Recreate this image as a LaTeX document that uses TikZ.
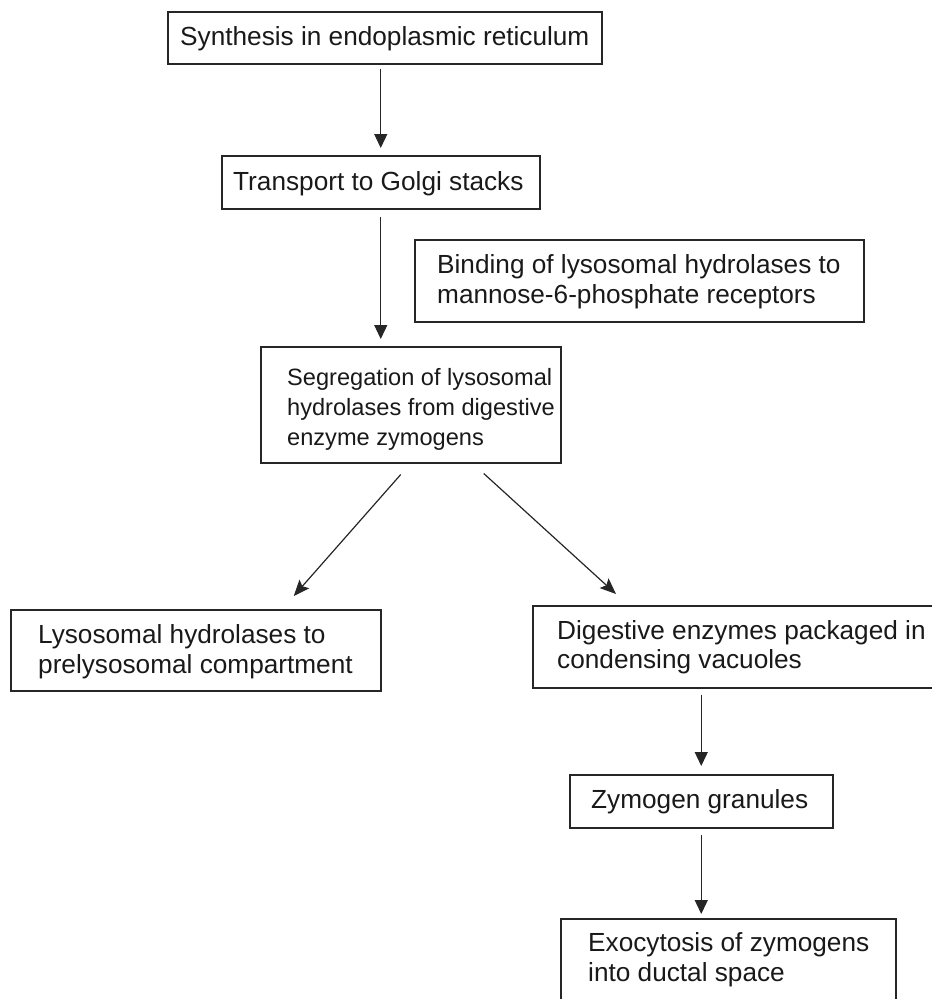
\documentclass[tikz,border=0pt]{standalone}
\usepackage{fontspec}
\setmainfont{Liberation Sans}
\usetikzlibrary{arrows.meta}
\begin{document}
\begin{tikzpicture}[x=1pt,y=-1pt,
  boxstyle/.style={draw=black!85, line width=1.5pt, inner sep=0pt, anchor=north west},
  txt/.style={anchor=base west, inner sep=0pt, text=black!90, font=\fontsize{26.2}{30.5}\selectfont},
  smalltxt/.style={txt, font=\fontsize{23.6}{29}\selectfont},
  arr/.style={draw=black!85, line width=1.3pt, -{Triangle[length=14pt,width=13pt]}},
  darr/.style={draw=black!85, line width=1.2pt, -{Stealth[length=16pt,width=13pt,inset=3pt]}}]
\useasboundingbox (0,0) rectangle (932,999);
\clip (0,0) rectangle (932,999);
% boxes
\node[boxstyle, minimum width=434pt, minimum height=52pt] (b1) at (167,11) {};
\node[boxstyle, minimum width=318pt, minimum height=53pt] (b2) at (221,155) {};
\node[boxstyle, minimum width=449pt, minimum height=82pt] (b3) at (414,239) {};
\node[boxstyle, minimum width=300pt, minimum height=116pt] (b4) at (260,346) {};
\node[boxstyle, minimum width=370pt, minimum height=81pt] (b5) at (10,609) {};
\node[boxstyle, minimum width=413pt, minimum height=82pt] (b6) at (532,605) {};
\node[boxstyle, minimum width=263pt, minimum height=53pt] (b7) at (569,774) {};
\node[boxstyle, minimum width=335pt, minimum height=95pt] (b8) at (560,918) {};
% texts
\node[txt] (t1) at (180,45.5) {Synthesis in endoplasmic reticulum};
\node[txt] (t2) at (233,190) {Transport to Golgi stacks};
\node[txt] (t3a) at (437,273) {Binding of lysosomal hydrolases to};
\node[txt] (t3b) at (437,303) {mannose-6-phosphate receptors};
\node[smalltxt] (t4a) at (287,385) {Segregation of lysosomal};
\node[smalltxt] (t4b) at (287,415) {hydrolases from digestive};
\node[smalltxt] (t4c) at (287,445) {enzyme zymogens};
\node[txt] (t5a) at (38,643) {Lysosomal hydrolases to};
\node[txt] (t5b) at (38,673) {prelysosomal compartment};
\node[txt] (t6a) at (557,639) {Digestive enzymes packaged in};
\node[txt] (t6b) at (557,668) {condensing vacuoles};
\node[txt] (t7) at (591,808) {Zymogen granules};
\node[txt] (t8a) at (588,951) {Exocytosis of zymogens};
\node[txt] (t8b) at (588,981) {into ductal space};
% connectors
\draw[arr] ([yshift=-4pt]b1.south -| b2.north) -- ([yshift=7pt]b2.north);
\draw[arr] ([yshift=-7pt]b2.south) -- ([yshift=7pt]b4.north -| b2.south);
\draw[darr] ([xshift=-10pt,yshift=-11pt]b4.south) -- ([xshift=98pt,yshift=13pt]b5.north);
\draw[darr] ([xshift=73pt,yshift=-10pt]b4.south) -- ([xshift=84pt,yshift=11pt]b6.north west);
\draw[arr] ([yshift=-6pt]b6.south -| b7.north) -- ([yshift=8pt]b7.north);
\draw[arr] ([yshift=-6pt]b7.south) -- ([yshift=4pt]b8.north -| b7.south);
\end{tikzpicture}
\end{document}
